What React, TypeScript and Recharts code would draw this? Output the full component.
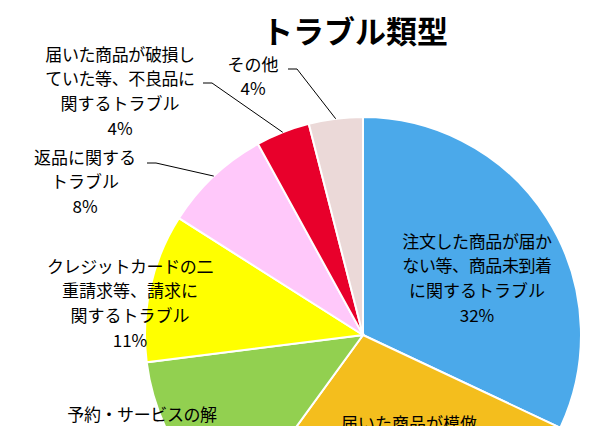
import { Cell, Pie, PieChart } from 'recharts'

const CATEGORIES = [
  '注文した商品が届かない等、商品未到着に関するトラブル',
  '届いた商品が模倣品・偽物だった等、商品に関するトラブル',
  '予約・サービスの解約に関するトラブル',
  'クレジットカードの二重請求等、請求に関するトラブル',
  '返品に関するトラブル',
  '届いた商品が破損していた等、不良品に関するトラブル',
  'その他',
]

const SHARES = [32, 28, 13, 11, 8, 4, 4]

// label text as it is broken in the picture (lower two labels run off the bottom edge)
const LABEL_LINES = [
  ['注文した商品が届か', 'ない等、商品未到着', 'に関するトラブル', '32%'],
  ['届いた商品が模倣'],
  ['予約・サービスの解'],
  ['クレジットカードの二', '重請求等、請求に', '関するトラブル', '11%'],
  ['返品に関する', 'トラブル', '8%'],
  ['届いた商品が破損し', 'ていた等、不良品に', '関するトラブル', '4%'],
  ['その他', '4%'],
]

const COLORS = ['#4BA9EA', '#F4BE1D', '#92D050', '#FFFF00', '#FFC8FA', '#E8002B', '#EBD9D8']

// text block placement relative to the pie centre (x of centre, y of first line)
const LABEL_OFFSETS = [
  { x: 114, y: -95 },
  { x: 46, y: 87 },
  { x: -221, y: 78 },
  { x: -233, y: -70 },
  { x: -278, y: -179 },
  { x: -243, y: -282 },
  { x: -110, y: -272 },
]

// leader line start (relative to pie centre) for the outside labels
const LEADERS: Record<number, { x: number; y: number }> = {
  4: { x: -216, y: -172 },
  5: { x: -160, y: -252 },
  6: { x: -75, y: -266 },
}

const data = CATEGORIES.map((name, i) => ({ name, value: SHARES[i] }))

const FONT = '"Noto Sans CJK JP", "Noto Sans", sans-serif'
const LINE_H = 24.7

const RAD = Math.PI / 180

function renderLabel(props: any) {
  const { cx, cy, midAngle, outerRadius, index } = props
  const off = LABEL_OFFSETS[index]
  const lines = LABEL_LINES[index]
  const lead = LEADERS[index]
  let leader = null
  if (lead) {
    const ex = cx + outerRadius * Math.cos(-midAngle * RAD)
    const ey = cy + outerRadius * Math.sin(-midAngle * RAD)
    const sx = cx + lead.x
    const sy = cy + lead.y
    leader = (
      <polyline
        points={`${sx},${sy} ${sx + 9},${sy} ${ex},${ey}`}
        fill="none"
        stroke="#000"
        strokeWidth={1}
      />
    )
  }
  return (
    <g key={`lbl-${index}`}>
      {leader}
      {lines.map((line, i) => (
        <text
          key={i}
          x={cx + off.x}
          y={cy + off.y + i * LINE_H}
          textAnchor="middle"
          dominantBaseline="central"
          fontFamily={FONT}
          fontSize={17}
          letterSpacing={line.length > 8 ? -0.4 : 0}
          fill="#000"
        >
          {line}
        </text>
      ))}
    </g>
  )
}

export default function App() {
  return (
    <div
      style={{
        position: 'absolute',
        left: 0,
        top: 0,
        width: 610,
        height: 426,
        overflow: 'hidden',
        background: '#fff',
      }}
    >
      <PieChart width={610} height={426} margin={{ top: 0, right: 0, bottom: 0, left: 0 }}>
        <Pie
          data={data}
          dataKey="value"
          nameKey="name"
          cx={363}
          cy={335}
          outerRadius={218}
          startAngle={90}
          endAngle={-270}
          stroke="#fff"
          strokeWidth={2}
          label={renderLabel}
          labelLine={false}
          isAnimationActive={false}
        >
          {data.map((entry, i) => (
            <Cell key={entry.name} fill={COLORS[i]} />
          ))}
        </Pie>
      </PieChart>
      <div
        style={{
          position: 'absolute',
          left: 255,
          top: 10,
          width: 200,
          textAlign: 'center',
          fontFamily: FONT,
          fontWeight: 'bold',
          fontSize: 31,
          lineHeight: '40px',
          color: '#000',
        }}
      >
        トラブル類型
      </div>
    </div>
  )
}
